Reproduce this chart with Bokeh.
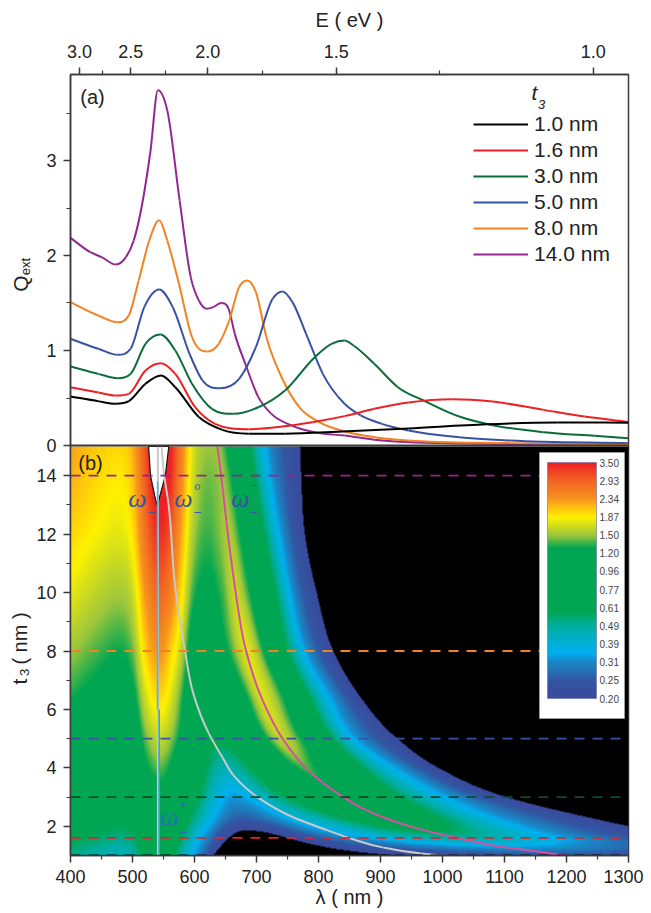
import numpy as np
from bokeh.core.properties import value
from bokeh.embed import file_html
from bokeh.layouts import row
from bokeh.models import (ColorBar, FixedTicker, Label, Legend, LegendItem,
                          LinearAxis, LinearColorMapper, Range1d)
from bokeh.plotting import figure
from bokeh.resources import INLINE

# ---------- panel (a): Q_ext spectra ----------
L_10 = [400,445,473,494,521,546,569,607,645,687,747,838,945,1071,1185,1300]
Q_10 = [.516,.466,.44,.466,.65,.737,.613,.30,.165,.125,.125,.147,.18,.224,.242,.24]
L_16 = [400,445,473,494,521,546,569,601,633,687,741,790,842,890,945,1016,1081,1163,1229,1300]
Q_16 = [.613,.558,.526,.544,.79,.866,.754,.403,.228,.172,.20,.245,.309,.386,.453,.488,.463,.375,.305,.249]
L_30 = [400,445,476,497,521,545,569,596,628,663,703,746,794,821,842,857,890,928,972,1027,1081,1163,1245,1300]
Q_30 = [.832,.754,.709,.754,1.07,1.168,1.0,.65,.386,.333,.403,.579,.93,1.07,1.105,1.05,.86,.614,.466,.305,.214,.14,.102,.077]
L_50 = [400,445,476,497,519,543,565,592,613,640,672,699,726,742,758,780,807,842,868,902,945,1027,1109,1300]
Q_50 = [1.123,1.018,.954,1.018,1.456,1.642,1.456,.965,.684,.603,.702,1.035,1.544,1.621,1.509,1.175,.754,.439,.316,.228,.158,.088,.053,.025]
L_80 = [400,445,476,494,510,527,543,556,575,596,621,639,656,672,685,699,716,743,769,801,842,890,945,1109,1300]
Q_80 = [1.509,1.368,1.298,1.368,1.737,2.158,2.37,2.158,1.70,1.14,.989,1.07,1.316,1.667,1.737,1.614,1.14,.684,.403,.245,.147,.088,.053,.025,.012]
L_140 = [400,432,451,473,489,502,529,541,556,576,594,607,620,630,643,655,665,682,703,724,757,799,842,890,1000,1300]
Q_140 = [2.186,2.035,1.98,1.905,1.98,2.158,3.1,3.74,3.53,2.58,1.77,1.526,1.439,1.456,1.50,1.439,1.175,.86,.509,.333,.21,.133,.105,.06,.025,.01]

SERIES_NAMES = ["1.0 nm", "1.6 nm", "3.0 nm", "5.0 nm", "8.0 nm", "14.0 nm"]
SERIES_T = [1.0, 1.6, 3.0, 5.0, 8.0, 14.0]
COLORS = ["#000000", "#ed2024", "#0b6b3a", "#3953a4", "#f58220", "#92278f"]
DASH_COLORS = ["#000000", "#ed2024", "#0a4d2b", "#3953a4", "#f58220", "#92278f"]

# ---------- panel (b): map table ----------
T_ROWS = [1, 1.3, 1.6, 2.2, 3, 4, 5, 6.5, 8, 10, 12, 14, 15]
# Q at fixed wavelengths around the 540 nm peak
LEFT_L = [400, 445, 476, 500, 520, 543, 560, 578]
LEFT_Q = [
    [.516,.466,.44,.47,.63,.73,.67,.47],
    [.56,.51,.48,.51,.70,.80,.73,.52],
    [.613,.558,.526,.56,.77,.866,.80,.58],
    [.71,.65,.61,.66,.9,1.0,.92,.68],
    [.832,.754,.709,.78,1.05,1.168,1.06,.78],
    [.98,.89,.83,.91,1.22,1.4,1.27,.97],
    [1.123,1.018,.954,1.03,1.41,1.64,1.5,1.2],
    [1.32,1.2,1.13,1.23,1.7,2.0,1.78,1.38],
    [1.509,1.368,1.298,1.43,2.0,2.37,2.05,1.62],
    [1.78,1.6,1.53,1.68,2.35,2.9,2.6,1.95],
    [2.0,1.83,1.76,1.95,2.75,3.38,3.05,2.25],
    [2.186,1.98,1.905,2.12,3.0,3.74,3.45,2.5],
    [2.25,2.05,2.0,2.2,3.1,3.85,3.55,2.6],
]
# wavelength and Q of the points that follow the moving resonance, row by row
RIGHT_L = [
    [607,670,916,1200,1300,1400,1500,1600,1700,1800,1900,2200],
    [604,680,880,1094,1180,1240,1300,1380,1460,1540,1640,2000],
    [601,687,842,1016,1081,1120,1163,1229,1390,1470,1540,1800],
    [598,675,790,925,965,1000,1040,1100,1255,1320,1400,1700],
    [596,663,746,842,870,900,940,1000,1102,1163,1245,1600],
    [594,650,720,780,803,830,865,915,993,1045,1120,1450],
    [592,640,699,742,765,785,815,855,927,960,1027,1300],
    [593,630,680,708,735,755,780,815,865,895,950,1300],
    [596,621,656,685,707,725,755,780,824,850,890,1300],
    [595,621,645,666,690,708,735,757,797,825,870,1300],
    [595,622,638,655,677,695,718,740,778,810,855,1300],
    [594,622,632,643,665,682,703,724,772,799,842,1300],
    [593,622,628,637,658,676,697,718,770,797,840,1300],
]
RIGHT_Q = [
    [.30,.13,.20,.245,.235,.22,.20,.18,.16,.14,.12,.08],
    [.35,.15,.25,.35,.33,.30,.27,.24,.20,.17,.13,.07],
    [.403,.172,.309,.488,.463,.42,.375,.305,.20,.16,.13,.07],
    [.52,.25,.42,.75,.68,.58,.47,.34,.20,.15,.11,.06],
    [.65,.333,.579,1.105,.98,.78,.55,.36,.20,.14,.102,.05],
    [.80,.46,.80,1.38,1.2,.92,.62,.37,.20,.13,.09,.035],
    [.965,.603,1.035,1.621,1.4,1.07,.66,.36,.20,.14,.088,.025],
    [1.05,.80,1.25,1.72,1.4,1.03,.62,.35,.20,.14,.085,.02],
    [1.14,.989,1.316,1.737,1.40,.96,.53,.33,.20,.14,.088,.012],
    [1.40,1.22,1.37,1.65,1.28,.92,.53,.33,.20,.14,.09,.01],
    [1.6,1.36,1.44,1.55,1.22,.88,.52,.33,.20,.135,.1,.01],
    [1.77,1.44,1.46,1.50,1.175,.86,.509,.333,.20,.133,.105,.01],
    [1.85,1.5,1.5,1.5,1.15,.85,.5,.33,.20,.13,.10,.01],
]
# resonance curves on the map
MAG_T = [1,1.14,1.3,1.6,1.92,2.3,2.65,3,3.84,5,6.3,8.1,10.07,11.8,14,15]
MAG_L = [1200,1153,1094,1024,960,905,868,840,787,742,710,682,666,655,643,637]
GRAY_T = [1,1.07,1.27,1.58,1.86,2.30,2.99,3.74,4.36,5.18,6.55,8.09,10.18,13.05,14.2,15]
GRAY_L = [997,965,905,852,815,760,702,663,645,623,598,584,569,558,550,547]
V_L = [526,529,536,540,544,553,558.5]
V_T = [15,14,13.3,12.95,13.3,14,15]

# colour bar
CB_LABELS = ["0.20","0.25","0.31","0.39","0.49","0.61","0.77","0.96","1.20","1.50","1.87","2.34","2.93","3.50"]
CB_VALUES = [float(v) for v in CB_LABELS]
CB_POS = [0,1,1.6,2,2.5,3,4,4.8,8.3,9,10,10.5,11,12,13]
CB_RGB = ["#3a4a9c","#3355a2","#1f78b8","#1a86c6","#00aeef","#00b0d8","#00ae9e","#00a651","#00a651",
          "#9cc63c","#fff200","#ffc20e","#f7941d","#f26522","#ed2024"]

# axes
E_MAJOR = [3.0, 2.5, 2.0, 1.5, 1.0]
E_MINOR = [2.75, 2.25, 1.75, 1.25]
HC = 1243.0
Q_MAJOR = [0, 1, 2, 3]
Q_MINOR = [.5, 1.5, 2.5, 3.5]
T_MAJOR = [2, 4, 6, 8, 10, 12, 14]
T_MINOR = [3, 5, 7, 9, 11, 13]
L_MAJOR = list(range(400, 1301, 100))
L_MINOR = list(range(450, 1300, 100))

FONT = "Liberation Sans"
SERIF = "Liberation Serif"
INK = "#222222"
AX = "#3a3a3a"
X0, Y1A, Y0A = 70.0, 74.0, 445.0
Y1B, Y0B = 446.0, 855.0
PXW = 558.0
PX_PER_T = (Y0B - Y1B) / 14.0
PX_PER_Q = 95.0
SIDE_W = 33
LEFT_W = 37


def lam(px):
    return 400 + (px - X0) * 900.0 / PXW


def qv(py):
    return (Y0A - py) / PX_PER_Q


def tv(py):
    return 1 + (Y0B - py) / PX_PER_T


def t_of_q(q):
    return round(tv(Y0A - q * PX_PER_Q), 4)


def slopes(x, y):
    x = np.asarray(x, float)
    y = np.asarray(y, float)
    h = np.diff(x)
    d = np.diff(y) / h
    m = np.zeros_like(y)
    m[0], m[-1] = d[0], d[-1]
    for i in range(1, len(x) - 1):
        if d[i - 1] * d[i] > 0:
            c = (h[i] * d[i - 1] + h[i - 1] * d[i]) / (h[i - 1] + h[i])
            lim = 3 * min(abs(d[i - 1]), abs(d[i]))
            m[i] = np.sign(c) * min(abs(c), lim)
    return x, y, h, m


def resample(xq, x, y):
    x, y, h, m = slopes(x, y)
    xq = np.clip(xq, x[0], x[-1])
    i = np.clip(np.searchsorted(x, xq) - 1, 0, len(x) - 2)
    s = (xq - x[i]) / h[i]
    return ((2 * s**3 - 3 * s**2 + 1) * y[i] + (s**3 - 2 * s**2 + s) * h[i] * m[i]
            + (-2 * s**3 + 3 * s**2) * y[i + 1] + (s**3 - s**2) * h[i] * m[i + 1])


def bezier_parts(x, y):
    """Control points of a smooth path through the read points (the points themselves stay as read)."""
    x, y, h, m = slopes(x, y)
    return dict(a0=x[:-1], a1=x[1:], b0=y[:-1], b1=y[1:],
                ca0=x[:-1] + h / 3, cb0=y[:-1] + m[:-1] * h / 3,
                ca1=x[1:] - h / 3, cb1=y[1:] - m[1:] * h / 3)


def style_axis(ax):
    ax.axis_line_color = AX
    ax.axis_line_width = 1.5
    ax.major_tick_line_color = AX
    ax.minor_tick_line_color = AX
    ax.major_tick_line_width = 1.5
    ax.minor_tick_line_width = 1.2
    ax.major_tick_in = 0
    ax.minor_tick_in = 0
    ax.major_tick_out = 7
    ax.minor_tick_out = 4
    ax.major_label_text_font = FONT
    ax.major_label_text_font_size = "18px"
    ax.major_label_text_color = INK
    ax.axis_label_text_font = FONT
    ax.axis_label_text_font_size = "20px"
    ax.axis_label_text_font_style = "normal"
    ax.axis_label_text_color = INK


# ---------- one plot area holding both panels ----------
p = figure(frame_width=558, frame_height=781, width=LEFT_W + 558 + 15, height=905,
           x_range=Range1d(400, 1300), y_range=Range1d(1, tv(Y1A)),
           toolbar_location=None, output_backend="svg",
           min_border_left=LEFT_W, min_border_right=15, min_border_top=74, min_border_bottom=50)
p.extra_y_ranges = {"q": Range1d(qv(Y0B), qv(Y1A))}
p.grid.visible = False
p.outline_line_color = AX
p.outline_line_width = 1.5

bottom = p.xaxis[0]
style_axis(bottom)
bottom.ticker = FixedTicker(ticks=L_MAJOR, minor_ticks=L_MINOR)
bottom.major_label_standoff = 7
bottom.axis_label = "\u03bb ( nm )"
bottom.axis_label_standoff = 0

top = LinearAxis()
style_axis(top)
e_ticks = [round(HC / e, 3) for e in E_MAJOR]
top.ticker = FixedTicker(ticks=e_ticks, minor_ticks=[round(HC / e, 3) for e in E_MINOR])
top.major_label_overrides = {t: f"{e:.1f}" for t, e in zip(e_ticks, E_MAJOR)}
top.major_label_standoff = 10
top.axis_label = "E ( eV )"
top.axis_label_standoff = 11
p.add_layout(top, "above")

left = p.yaxis[0]
style_axis(left)
q_ticks = [t_of_q(q) for q in Q_MAJOR]
left.ticker = FixedTicker(ticks=T_MAJOR + q_ticks, minor_ticks=T_MINOR + [t_of_q(q) for q in Q_MINOR])
left.major_label_overrides = {t: str(q) for t, q in zip(q_ticks, Q_MAJOR)}
left.major_label_standoff = 7

# panel (b): map
NX, NY = 558, 409
grid_l = np.linspace(400, 1300, NX)
grid_t = np.linspace(1, 15, NY)
lq_left = np.log(np.array(LEFT_Q))
rl = np.array(RIGHT_L, float)
lq_right = np.log(np.array(RIGHT_Q))
kL = np.stack([resample(grid_t, T_ROWS, lq_left[:, k]) for k in range(lq_left.shape[1])], axis=1)
kX = np.stack([resample(grid_t, T_ROWS, rl[:, k]) for k in range(rl.shape[1])], axis=1)
kQ = np.stack([resample(grid_t, T_ROWS, lq_right[:, k]) for k in range(lq_right.shape[1])], axis=1)
field = np.zeros((NY, NX))
for i in range(NY):
    field[i] = resample(grid_l, np.r_[LEFT_L, kX[i]], np.r_[kL[i], kQ[i]])
Qmap = np.exp(field)
pos = np.interp(Qmap, CB_VALUES, np.arange(14.0))
pos[Qmap < CB_VALUES[0]] = -1
pos[Qmap > CB_VALUES[-1]] = 13

stops = np.array([[int(c[i:i + 2], 16) for i in (1, 3, 5)] for c in CB_RGB], float)
idx = np.linspace(0, 13, 256)
rgb = np.stack([np.interp(idx, CB_POS, stops[:, j]) for j in range(3)], axis=1).round().astype(int)
palette = ["#%02x%02x%02x" % tuple(v) for v in rgb]
mapper = LinearColorMapper(palette=palette, low=0, high=13, low_color="#000000", high_color="#ed2024")
p.image(image=[pos.astype("float32")], x=400, y=1, dw=900, dh=14, color_mapper=mapper)

p.patch(V_L, V_T, fill_color="#ffffff", line_color="#111111", line_width=1.2)
p.line([541, 541], [1, 15], line_color="#c8c8c8", line_width=2)
p.line([540.5, 540.5], [6, 13.8], line_color="#4fb8d8", line_width=1.6)
p.line([543, 543], [1, 6], line_color="#2fa8d8", line_width=1.6)
for tt, ll, col in [(GRAY_T, GRAY_L, "#c9c9c9"), (MAG_T, MAG_L, "#d64fa0")]:
    b = bezier_parts(tt, ll)
    p.bezier(x0=b["b0"], y0=b["a0"], x1=b["b1"], y1=b["a1"], cx0=b["cb0"], cy0=b["ca0"],
             cx1=b["cb1"], cy1=b["ca1"], line_color=col, line_width=2)
for t, col in zip(SERIES_T, DASH_COLORS):
    p.line([400, 1300], [t, t], line_color=col, line_width=1.8, line_dash="10 8")

# panel (a): spectra
items = []
pairs = list(zip(SERIES_NAMES, [L_10, L_16, L_30, L_50, L_80, L_140],
                 [Q_10, Q_16, Q_30, Q_50, Q_80, Q_140], COLORS))
for name, xs, ys, col in pairs[::-1]:
    b = bezier_parts(xs, ys)
    p.bezier(x0=b["a0"], y0=b["b0"], x1=b["a1"], y1=b["b1"], cx0=b["ca0"], cy0=b["cb0"],
             cx1=b["ca1"], cy1=b["cb1"], line_color=col, line_width=2, y_range_name="q")
for name, xs, ys, col in pairs:
    r = p.line([float("nan")], [float("nan")], line_color=col, line_width=2, y_range_name="q")
    items.append(LegendItem(label=name, renderers=[r]))
p.line([400, 1300], [0, 0], line_color=AX, line_width=1.8, y_range_name="q")
legend = Legend(items=items, location=(403, 589), padding=0, margin=0, spacing=2,
                glyph_width=55, glyph_height=20, label_height=20, label_standoff=6,
                label_text_font=FONT, label_text_font_size="21px", label_text_color=INK,
                background_fill_alpha=0, border_line_color=None)
legend.item_background_fill_alpha = 0
p.add_layout(legend, "center")


def lbl(px, y, text, size, font=FONT, style="normal", color=INK, rng="default"):
    p.add_layout(Label(x=lam(px), y=y, y_range_name=rng, text=text, text_font=font,
                       text_font_size=f"{size}px", text_font_style=style, text_color=color,
                       text_align="center", text_baseline="middle"))


lbl(92, qv(96), "(a)", 20, rng="q")
lbl(534, qv(92), "t", 21, style="italic", rng="q")
lbl(541, qv(104), "3", 13, style="italic", rng="q")

# colour-bar card
p.quad(left=lam(539), right=lam(624), top=tv(452), bottom=tv(718), fill_color="#ffffff", line_color="#bbbbbb", line_width=0.5)
cb = ColorBar(color_mapper=mapper, location=(477, 157), width=49, height=236, padding=0,
              ticker=FixedTicker(ticks=list(range(14))),
              major_label_overrides={i: s for i, s in enumerate(CB_LABELS)},
              major_label_text_font=FONT, major_label_text_font_size="10px",
              major_label_text_color="#444444", major_tick_line_color=None,
              minor_tick_line_color=None, bar_line_color="#6a6fa8", bar_line_width=0.6,
              label_standoff=3, background_fill_alpha=0, border_line_color=None, title=None)
p.add_layout(cb, "center")

lbl(90, tv(462), "(b)", 20)
OMEGA = "#3953a4"
OM2 = "#2a6fb5"
lbl(137, tv(498), "\u03c9", 26, font=SERIF, style="italic", color=OMEGA)
lbl(150, tv(484), "\u2013", 10, color=OMEGA)
lbl(151, tv(511), "\u2013", 12, color=OMEGA)
lbl(183, tv(498), "\u03c9", 26, font=SERIF, style="italic", color=OMEGA)
lbl(197, tv(485), "o", 12, font=SERIF, style="italic", color=OMEGA)
lbl(197, tv(511), "\u2013", 12, color=OMEGA)
lbl(240, tv(498), "\u03c9", 26, font=SERIF, style="italic", color=OMEGA)
lbl(253, tv(484), "\u2013", 12, color=OMEGA)
lbl(253, tv(511), "\u2013", 12, color=OMEGA)
lbl(169, tv(817), "\u03c9", 26, font=SERIF, style="italic", color=OM2)
lbl(183, tv(804), "+", 12, color=OM2)
lbl(183, tv(831), "\u2013", 12, color=OM2)

# rotated axis titles live in a narrow plot to the left (texts at page pixels)
SIDE_X = [20, 25, 19, 24, 19]
SIDE_Y = [283, 266, 681, 672, 638]
SIDE_TEXT = ["Q", "ext", "t", "3", "( nm )"]
SIDE_SIZE = ["21px", "13px", "21px", "13px", "20px"]
side = figure(frame_width=SIDE_W, frame_height=781, width=SIDE_W, height=905,
              x_range=Range1d(0, SIDE_W), y_range=Range1d(Y0B, Y1A),
              toolbar_location=None, output_backend="svg", x_axis_location=None, y_axis_location=None,
              min_border_left=0, min_border_right=0, min_border_top=74, min_border_bottom=50,
              outline_line_color=None)
side.grid.visible = False
for sx, sy, st, ss in zip(SIDE_X, SIDE_Y, SIDE_TEXT, SIDE_SIZE):
    side.text(x=[sx], y=[sy], text=[st], angle=np.pi / 2, text_font=value(FONT), text_font_size=ss,
              text_color=INK, text_align="center", text_baseline="middle")

open("out.html", "w").write(file_html(row(side, p, spacing=0), INLINE))
